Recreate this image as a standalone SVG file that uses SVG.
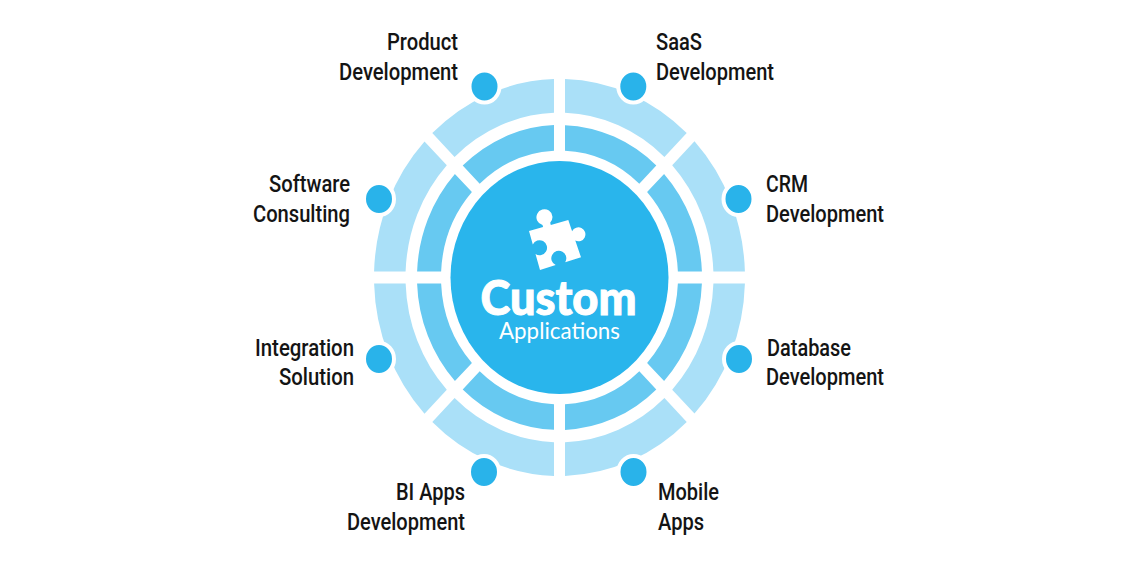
<svg xmlns="http://www.w3.org/2000/svg" xmlns:xlink="http://www.w3.org/1999/xlink" width="1134" height="567" viewBox="0 0 1134 567">
<style>
.lbl{font-family:"Roboto","Liberation Sans",sans-serif;font-weight:500;font-size:24px;fill:#141414}
.dot{fill:#29b3ea;stroke:#fff;stroke-width:4}
.o{fill:#aae0f8}
.i{fill:#67c9f1}
</style>
<defs>
<path id="seg-outer" d="M5.5,-185.42A185.5,185.5 0 0 1 127.2,-135L104.9,-112.7A154,154 0 0 0 5.5,-153.9Z"/>
<path id="seg-inner" d="M5.5,-142.39A142.5,142.5 0 0 1 96.8,-104.6L79.8,-87.6A118.5,118.5 0 0 0 5.5,-118.37Z"/>
</defs>
<rect width="1134" height="567" fill="#fff"/>
<g id="rings" transform="translate(559.5 277.5) scale(1 1.07)">
<g id="ring-saas"><use xlink:href="#seg-outer" class="o"/><use xlink:href="#seg-inner" class="i"/></g>
<g id="ring-crm" transform="rotate(45)"><use xlink:href="#seg-outer" class="o"/><use xlink:href="#seg-inner" class="i"/></g>
<g id="ring-database" transform="rotate(90)"><use xlink:href="#seg-outer" class="o"/><use xlink:href="#seg-inner" class="i"/></g>
<g id="ring-mobile" transform="rotate(135)"><use xlink:href="#seg-outer" class="o"/><use xlink:href="#seg-inner" class="i"/></g>
<g id="ring-bi" transform="rotate(180)"><use xlink:href="#seg-outer" class="o"/><use xlink:href="#seg-inner" class="i"/></g>
<g id="ring-integration" transform="rotate(225)"><use xlink:href="#seg-outer" class="o"/><use xlink:href="#seg-inner" class="i"/></g>
<g id="ring-software" transform="rotate(270)"><use xlink:href="#seg-outer" class="o"/><use xlink:href="#seg-inner" class="i"/></g>
<g id="ring-product" transform="rotate(315)"><use xlink:href="#seg-outer" class="o"/><use xlink:href="#seg-inner" class="i"/></g>
</g>
<g id="connectors"></g>
<g id="center">
<ellipse cx="559.5" cy="277.5" rx="109" ry="116.6" fill="#29b5ec"/>
<path fill="#fff" d="M529,231L543.1,227.1L542.5,225A8,8 0 1 1 550.2,222.8L550.8,224.9L568.3,220L572.1,231.3A7,7 0 1 1 575.3,240.6L581,257.3L565.2,262.2A7.5,7.5 0 1 0 555.7,265.1L540,270L535.5,254A7.5,7.5 0 1 0 532.8,244.4Z"/>
<text x="558.5" y="314.5" text-anchor="middle" font-family="Lato,'Liberation Sans',sans-serif" font-weight="900" font-size="48" fill="#fff" stroke="#fff" stroke-width="1" textLength="156" lengthAdjust="spacingAndGlyphs">Custom</text>
<text x="559.5" y="339" text-anchor="middle" font-family="Lato,'Liberation Sans',sans-serif" font-size="23" fill="#fff" textLength="121" lengthAdjust="spacingAndGlyphs">Applications</text>
</g>
<g id="node-product"><ellipse class="dot" cx="484.5" cy="86.5" rx="15" ry="16"/>
<text class="lbl" x="458" y="50" text-anchor="end" textLength="71" lengthAdjust="spacingAndGlyphs">Product</text>
<text class="lbl" x="458" y="80" text-anchor="end" textLength="119" lengthAdjust="spacingAndGlyphs">Development</text></g>
<g id="node-saas"><ellipse class="dot" cx="633.3" cy="86.5" rx="15" ry="16"/>
<text class="lbl" x="656" y="50" textLength="46" lengthAdjust="spacingAndGlyphs">SaaS</text>
<text class="lbl" x="656" y="80" textLength="118" lengthAdjust="spacingAndGlyphs">Development</text></g>
<g id="node-crm"><ellipse class="dot" cx="738.5" cy="199" rx="15" ry="16"/>
<text class="lbl" x="766" y="192" textLength="42" lengthAdjust="spacingAndGlyphs">CRM</text>
<text class="lbl" x="766" y="222" textLength="118" lengthAdjust="spacingAndGlyphs">Development</text></g>
<g id="node-software"><ellipse class="dot" cx="379" cy="199" rx="15" ry="16"/>
<text class="lbl" x="350" y="192" text-anchor="end" textLength="81" lengthAdjust="spacingAndGlyphs">Software</text>
<text class="lbl" x="350" y="222" text-anchor="end" textLength="97" lengthAdjust="spacingAndGlyphs">Consulting</text></g>
<g id="node-integration"><ellipse class="dot" cx="379" cy="359" rx="15" ry="16"/>
<text class="lbl" x="354" y="356" text-anchor="end" textLength="99" lengthAdjust="spacingAndGlyphs">Integration</text>
<text class="lbl" x="354" y="385" text-anchor="end" textLength="75" lengthAdjust="spacingAndGlyphs">Solution</text></g>
<g id="node-database"><ellipse class="dot" cx="739" cy="359" rx="15" ry="16"/>
<text class="lbl" x="767" y="356" textLength="84" lengthAdjust="spacingAndGlyphs">Database</text>
<text class="lbl" x="766" y="385" textLength="118" lengthAdjust="spacingAndGlyphs">Development</text></g>
<g id="node-bi"><ellipse class="dot" cx="484" cy="472" rx="15" ry="16"/>
<text class="lbl" x="465" y="500" text-anchor="end" textLength="69" lengthAdjust="spacingAndGlyphs">BI Apps</text>
<text class="lbl" x="465" y="530" text-anchor="end" textLength="118" lengthAdjust="spacingAndGlyphs">Development</text></g>
<g id="node-mobile"><ellipse class="dot" cx="633.5" cy="472" rx="15" ry="16"/>
<text class="lbl" x="658" y="500" textLength="61" lengthAdjust="spacingAndGlyphs">Mobile</text>
<text class="lbl" x="658" y="530" textLength="46" lengthAdjust="spacingAndGlyphs">Apps</text></g>
</svg>
